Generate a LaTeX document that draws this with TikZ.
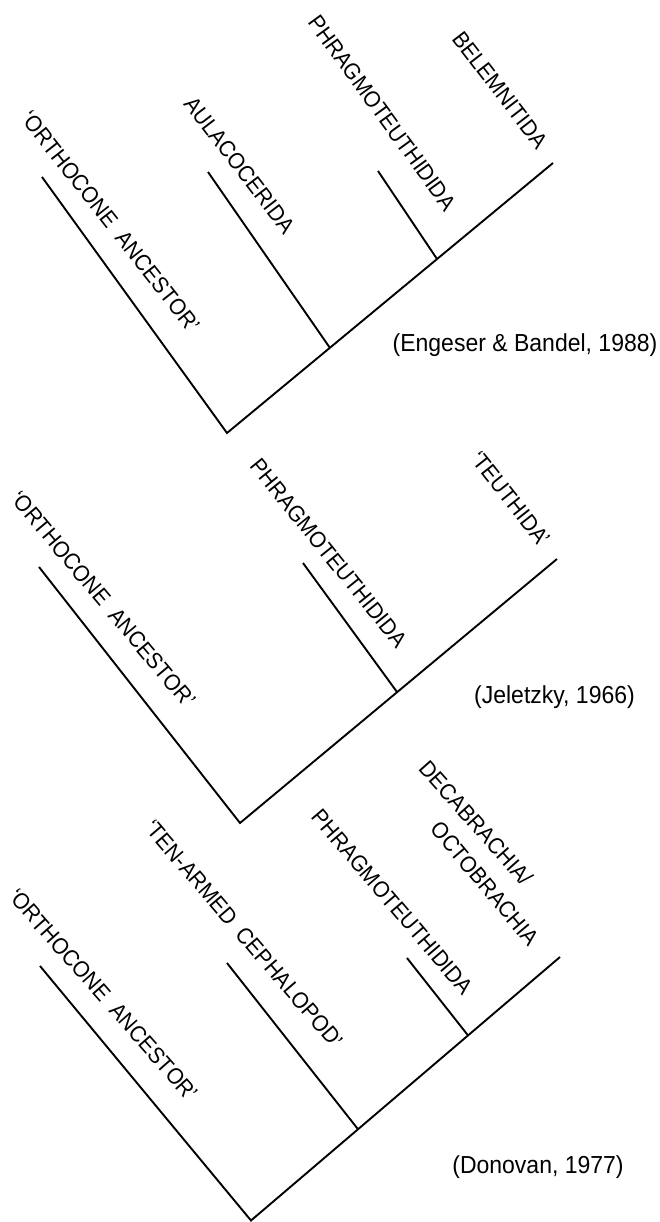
\documentclass[tikz,border=0pt]{standalone}
\usepackage{fontspec}
\setmainfont{Liberation Sans}
\begin{document}
\begin{tikzpicture}[x=1pt,y=-1pt,
  br/.style={line width=1.9pt, line join=miter},
  lbl/.style={font=\fontsize{21}{25}\selectfont, inner sep=0pt, anchor=center},
  tilt/.style={rotate=#1, yscale=1.08},
  cite/.style={font=\fontsize{23}{27}\selectfont, inner sep=0pt, anchor=center, yscale=1.07}]
\useasboundingbox (0,0) rectangle (660,1222);
\newcommand{\gap}{\hspace{0.55em}}
% ---------- Tree 1 (Engeser & Bandel, 1988)
\coordinate (r1) at (227,433);
\coordinate (o1) at (42,177);
\coordinate (t1) at (553,163);
\coordinate (a1) at (208,172);
\coordinate (j1a) at (330,348);
\coordinate (p1) at (378,171);
\coordinate (j1b) at (437,259);
\draw[br] (o1) -- (r1) -- (t1);
\draw[br] (a1) -- (j1a);
\draw[br] (p1) -- (j1b);
\node[lbl, tilt=-51.8] (l1o) at (110.5,221.5) {‘ORTHOCONE\gap ANCESTOR’};
\node[lbl, tilt=-52.5] (l1a) at (239.5,165) {AULACOCERIDA};
\node[lbl, tilt=-54] (l1p) at (382.5,113) {PHRAGMOTEUTHIDIDA};
\node[lbl, tilt=-52.4] (l1b) at (500,90) {BELEMNITIDA};
\node[cite] (c1) at (525,345) {(Engeser \& Bandel, 1988)};
% ---------- Tree 2 (Jeletzky, 1966)
\coordinate (r2) at (240,823);
\coordinate (o2) at (39,567);
\coordinate (t2) at (557,559);
\coordinate (p2) at (303,563);
\coordinate (j2) at (397,692);
\draw[br] (o2) -- (r2) -- (t2);
\draw[br] (p2) -- (j2);
\node[lbl, tilt=-50.1] (l2o) at (103.5,599) {‘ORTHOCONE\gap ANCESTOR’};
\node[lbl, tilt=-51.1] (l2p) at (328.5,553) {PHRAGMOTEUTHIDIDA};
\node[lbl, tilt=-51.6] (l2t) at (510,498.5) {‘TEUTHIDA’};
\node[cite] (c2) at (554.5,697) {(Jeletzky, 1966)};
% ---------- Tree 3 (Donovan, 1977)
\coordinate (r3) at (251,1220.5);
\coordinate (o3) at (40,966);
\coordinate (t3) at (560,957);
\coordinate (e3) at (227,963);
\coordinate (j3a) at (358,1129.2);
\coordinate (p3) at (407,958);
\coordinate (j3b) at (468,1035.4);
\draw[br] (o3) -- (r3) -- (t3);
\draw[br] (e3) -- (j3a);
\draw[br] (p3) -- (j3b);
\node[lbl, tilt=-48.6] (l3o) at (103.5,994.5) {‘ORTHOCONE\gap ANCESTOR’};
\node[lbl, tilt=-49.4] (l3e) at (244,934) {‘TEN-ARMED\gap CEPHALOPOD’};
\node[lbl, tilt=-49.5] (l3p) at (392.5,902) {PHRAGMOTEUTHIDIDA};
\node[lbl, tilt=-48.3] (l3d) at (476,823) {DECABRACHIA/};
\node[lbl, tilt=-50] (l3c) at (485,883.5) {OCTOBRACHIA};
\node[cite] (c3) at (538,1167) {(Donovan, 1977)};
\end{tikzpicture}
\end{document}
